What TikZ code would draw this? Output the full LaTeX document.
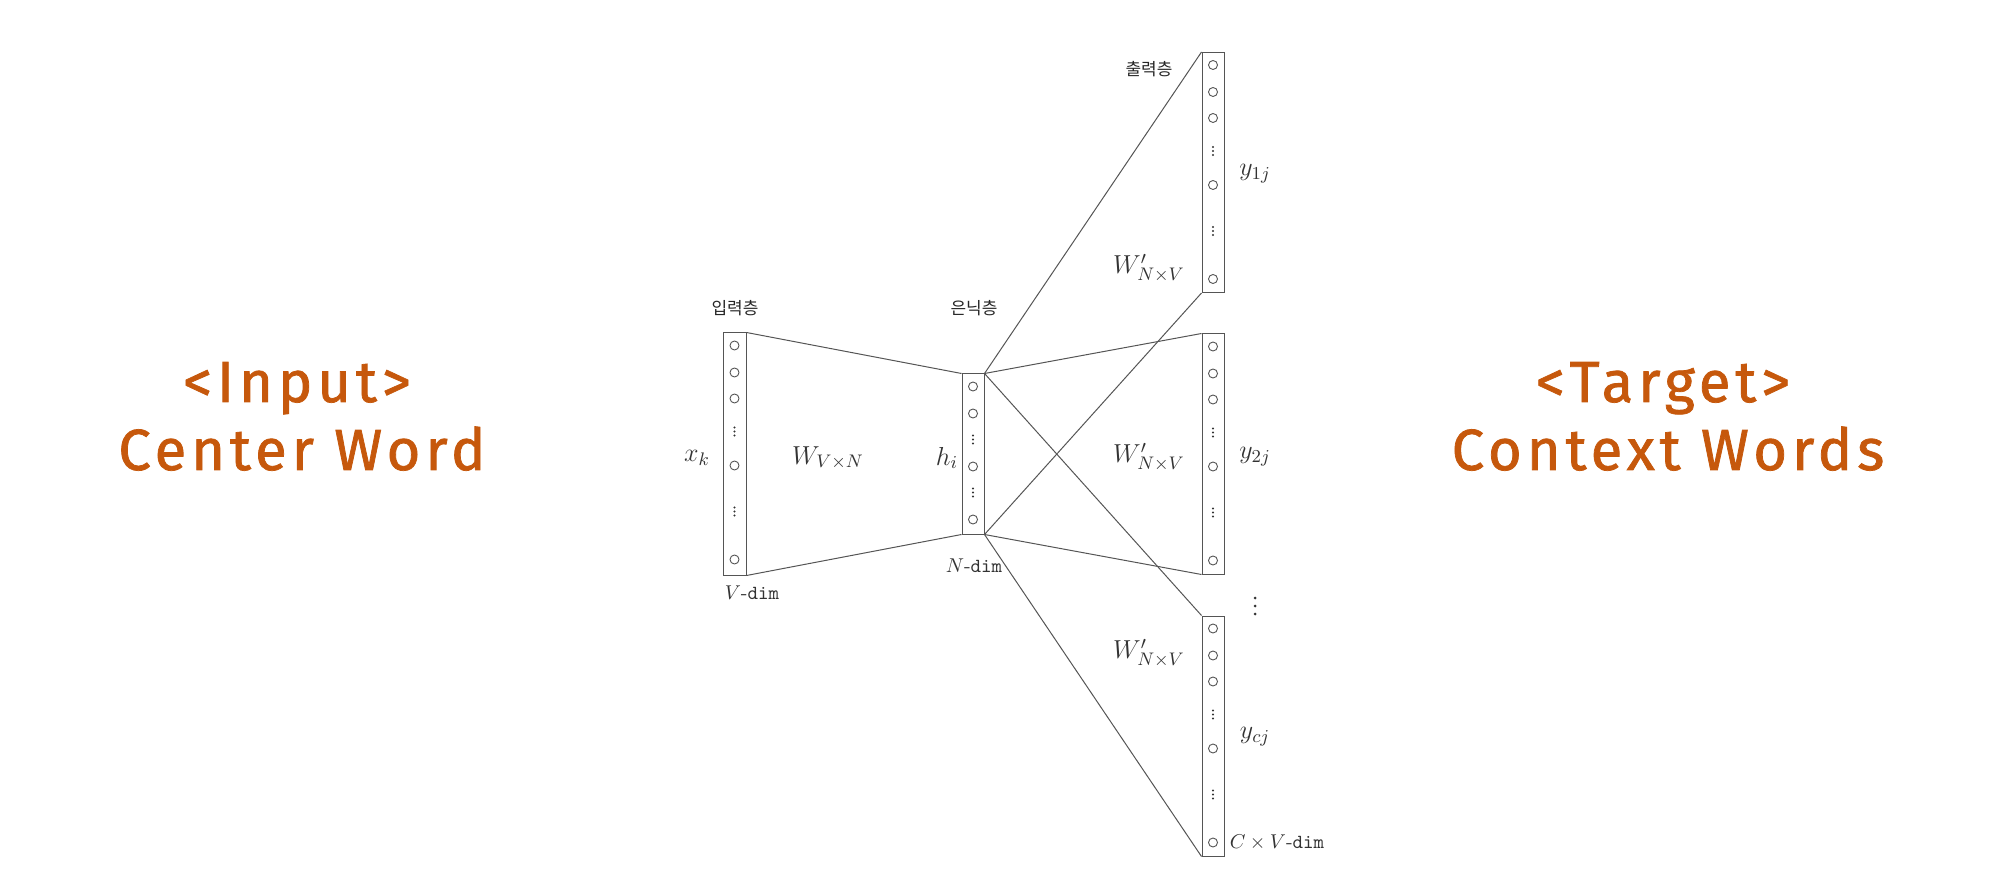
\RequirePackage{fix-cm}
\documentclass[tikz,border=0pt]{standalone}
\usepackage{fontspec}
\newfontfamily\krfont{Noto Sans CJK KR}
\newfontfamily\orfont{Fira Sans}[LetterSpace=8.5,FakeBold=1.3]
\definecolor{orng}{RGB}{198,88,12}
\definecolor{linec}{RGB}{85,85,85}
\newcommand\drawunits[1]{%
  \foreach \d in {13,40,66,133,227}{\draw[unitc] ([yshift=-\d*0.5pt]#1.north) circle[radius=2.25pt];}
  \foreach \d in {99,179}{\foreach \e in {-4,0,4}{\fill[black!80] ([yshift=-(\d+\e)*0.5pt]#1.north) circle[radius=0.6pt];}}%
}
\newcommand\drawhidunits[1]{%
  \foreach \d in {13,40,93,146}{\draw[unitc] ([yshift=-\d*0.5pt]#1.north) circle[radius=2.25pt];}
  \foreach \d in {66,119}{\foreach \e in {-4,0,4}{\fill[black!80] ([yshift=-(\d+\e)*0.5pt]#1.north) circle[radius=0.6pt];}}%
}
\begin{document}
\begin{tikzpicture}[x=0.5pt,y=-0.5pt,
  layerbox/.style={draw=linec, line width=0.5pt, minimum width=11pt, inner sep=0pt},
  conn/.style={draw=linec, line width=0.5pt},
  unitc/.style={draw=linec, line width=0.45pt},
  krlbl/.style={font=\krfont\fontsize{8.5}{10}\selectfont, text=black!85, inner sep=0pt},
  mlbl/.style={font=\fontsize{13}{15}\selectfont, text=black!80, inner sep=0pt},
  dimlbl/.style={font=\fontsize{10}{12}\selectfont, text=black!80, inner sep=0pt},
  otext/.style={font=\orfont\fontsize{29}{34}\selectfont, text=orng, anchor=base, inner sep=0pt}]
\useasboundingbox (0,0) rectangle (2000,881);
% layers
\node[layerbox, minimum width=11.5pt, minimum height=121pt] (in) at (734.5,454) {};
\node[layerbox, minimum height=80pt] (hid) at (973,454) {};
\node[layerbox, minimum height=120pt] (o1) at (1213,172.5) {};
\node[layerbox, minimum height=120pt] (o2) at (1213,454) {};
\node[layerbox, minimum height=120pt] (o3) at (1213,736) {};
\drawunits{in}
\drawhidunits{hid}
\drawunits{o1}
\drawunits{o2}
\drawunits{o3}
% connectors
\draw[conn] (in.north east) -- (hid.north west);
\draw[conn] (in.south east) -- (hid.south west);
\foreach \o in {o1,o2,o3}{
  \draw[conn] (hid.north east) -- (\o.north west);
  \draw[conn] (hid.south east) -- (\o.south west);
}
% labels
\node[krlbl] (lin) at (735,308) {입력층};
\node[krlbl] (lhid) at (974,308) {은닉층};
\node[krlbl] (lout) at (1149,69) {출력층};
\node[mlbl] (xk) at (697,458) {$x_k$};
\node[mlbl] (wvn) at (828,458) {$W_{V\times N}$};
\node[mlbl] (hi) at (947,458) {$h_i$};
\node[dimlbl] (vdim) at (752,593) {$V$-\texttt{dim}};
\node[dimlbl] (ndim) at (974,566) {$N$-\texttt{dim}};
\node[mlbl] (y1) at (1255,174) {$y_{1j}$};
\node[mlbl] (w1) at (1149,268) {$W'_{N\times V}$};
\node[mlbl] (y2) at (1255,457) {$y_{2j}$};
\node[mlbl] (w2) at (1149,457) {$W'_{N\times V}$};
\node[mlbl] (y3) at (1255,737) {$y_{cj}$};
\node[mlbl] (w3) at (1149,653) {$W'_{N\times V}$};
\node[dimlbl] (cvdim) at (1277,842) {$C\times V$-\texttt{dim}};
\foreach \e in {-8,0,8}{\fill[black!80] (1255,606+\e) circle[radius=0.75pt];}
% orange titles
\node[otext] (in1) at (297,402) {<Input>};
\node[otext] (in2) at (302,470) {Center Word};
\node[otext] (out1) at (1663,402) {<Target>};
\node[otext] (out2) at (1668,470) {Context Words};
\end{tikzpicture}
\end{document}
